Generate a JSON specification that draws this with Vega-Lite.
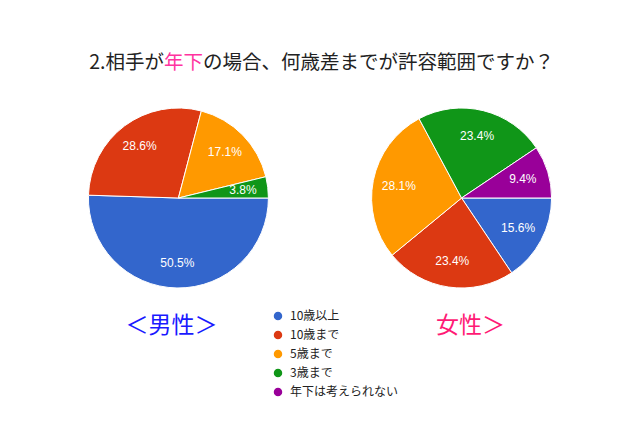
{
  "$schema": "https://vega.github.io/schema/vega-lite/v6.json",
  "width": 640,
  "height": 396,
  "autosize": {"type": "none"},
  "padding": {"top": 0, "left": 0, "right": 0, "bottom": 31},
  "background": "white",
  "config": {"view": {"stroke": null}},
  "datasets": {
    "pie": [
      {"sex": "男性", "category": "10歳以上", "rank": 1, "pct": 0.505},
      {"sex": "男性", "category": "10歳まで", "rank": 2, "pct": 0.286},
      {"sex": "男性", "category": "5歳まで", "rank": 3, "pct": 0.171},
      {"sex": "男性", "category": "3歳まで", "rank": 4, "pct": 0.038},
      {"sex": "女性", "category": "10歳以上", "rank": 1, "pct": 0.156},
      {"sex": "女性", "category": "10歳まで", "rank": 2, "pct": 0.234},
      {"sex": "女性", "category": "5歳まで", "rank": 3, "pct": 0.281},
      {"sex": "女性", "category": "3歳まで", "rank": 4, "pct": 0.234},
      {"sex": "女性", "category": "年下は考えられない", "rank": 5, "pct": 0.094}
    ],
    "labels": [
      {"sex": "男性", "label": "＜男性＞"},
      {"sex": "女性", "label": "女性＞"}
    ],
    "title": [
      {"a": "2.相手が", "hl": "年下", "b": "の場合、何歳差までが許容範囲ですか？"}
    ]
  },
  "layer": [
    {
      "data": {"name": "pie"},
      "transform": [{"filter": "datum.sex === '男性'"}],
      "layer": [
        {
          "mark": {"type": "arc", "outerRadius": 90, "stroke": "white", "strokeWidth": 1},
          "encoding": {
            "x": {"field": "sex", "type": "nominal", "scale": {"type": "point", "domain": ["男性", "女性"], "padding": 0.63}, "axis": null},
            "theta": {"field": "pct", "type": "quantitative", "stack": "normalize", "scale": {"range": [1.5708, 7.854]}},
            "order": {"field": "rank", "type": "quantitative"},
            "color": {
              "field": "category", "type": "nominal",
              "scale": {"domain": ["10歳以上", "10歳まで", "5歳まで", "3歳まで", "年下は考えられない"], "range": ["#3366cc", "#dc3912", "#ff9900", "#109618", "#990099"]},
              "legend": {"title": null, "orient": "none", "legendX": 272, "legendY": 310, "symbolType": "circle", "symbolSize": 100, "labelFont": "Noto Sans CJK JP", "labelFontSize": 12, "labelColor": "#222222", "rowPadding": 3, "labelOffset": 6}
            }
          }
        },
        {
          "mark": {"type": "text", "radius": 65, "fill": "white", "font": "Liberation Sans", "fontSize": 12},
          "encoding": {
            "x": {"field": "sex", "type": "nominal", "scale": {"type": "point", "domain": ["男性", "女性"], "padding": 0.63}, "axis": null},
            "theta": {"field": "pct", "type": "quantitative", "stack": "normalize"},
            "order": {"field": "rank", "type": "quantitative"},
            "text": {"field": "pct", "type": "quantitative", "format": ".1%"}
          }
        }
      ]
    },
    {
      "data": {"name": "pie"},
      "transform": [{"filter": "datum.sex === '女性'"}],
      "layer": [
        {
          "mark": {"type": "arc", "outerRadius": 90, "stroke": "white", "strokeWidth": 1},
          "encoding": {
            "x": {"field": "sex", "type": "nominal", "scale": {"type": "point", "domain": ["男性", "女性"], "padding": 0.63}, "axis": null},
            "theta": {"field": "pct", "type": "quantitative", "stack": "normalize", "scale": {"range": [1.5708, 7.854]}},
            "order": {"field": "rank", "type": "quantitative"},
            "color": {"field": "category", "type": "nominal"}
          }
        },
        {
          "mark": {"type": "text", "radius": 64, "fill": "white", "font": "Liberation Sans", "fontSize": 12},
          "encoding": {
            "x": {"field": "sex", "type": "nominal", "scale": {"type": "point", "domain": ["男性", "女性"], "padding": 0.63}, "axis": null},
            "theta": {"field": "pct", "type": "quantitative", "stack": "normalize"},
            "order": {"field": "rank", "type": "quantitative"},
            "text": {"field": "pct", "type": "quantitative", "format": ".1%"}
          }
        }
      ]
    },
    {
      "data": {"name": "labels"},
      "transform": [{"filter": "datum.sex === '男性'"}],
      "mark": {"type": "text", "font": "Noto Sans CJK JP", "fontSize": 23, "fill": "#1a1aff", "dy": 128, "dx": -7, "baseline": "middle"},
      "encoding": {
        "x": {"field": "sex", "type": "nominal", "scale": {"type": "point", "domain": ["男性", "女性"], "padding": 0.63}, "axis": null},
        "text": {"field": "label", "type": "nominal"}
      }
    },
    {
      "data": {"name": "labels"},
      "transform": [{"filter": "datum.sex === '女性'"}],
      "mark": {"type": "text", "font": "Noto Sans CJK JP", "fontSize": 23, "fill": "#ff1a75", "dy": 128, "dx": 9, "baseline": "middle"},
      "encoding": {
        "x": {"field": "sex", "type": "nominal", "scale": {"type": "point", "domain": ["男性", "女性"], "padding": 0.63}, "axis": null},
        "text": {"field": "label", "type": "nominal"}
      }
    },
    {
      "data": {"name": "title"},
      "mark": {"type": "text", "font": "Noto Sans CJK JP", "fontSize": 19.5, "fill": "#222222", "dy": -135, "dx": -14.4, "baseline": "middle", "align": "right"},
      "encoding": {
        "x": {"datum": "男性", "type": "nominal", "scale": {"type": "point", "domain": ["男性", "女性"], "padding": 0.63}, "axis": null},
        "text": {"field": "a", "type": "nominal"}
      }
    },
    {
      "data": {"name": "title"},
      "mark": {"type": "text", "font": "Noto Sans CJK JP", "fontSize": 19.5, "fill": "#ff33a0", "dy": -135, "dx": 5.1, "baseline": "middle", "align": "center"},
      "encoding": {
        "x": {"datum": "男性", "type": "nominal", "scale": {"type": "point", "domain": ["男性", "女性"], "padding": 0.63}, "axis": null},
        "text": {"field": "hl", "type": "nominal"}
      }
    },
    {
      "data": {"name": "title"},
      "mark": {"type": "text", "font": "Noto Sans CJK JP", "fontSize": 19.5, "fill": "#222222", "dy": -135, "dx": 24.6, "baseline": "middle", "align": "left"},
      "encoding": {
        "x": {"datum": "男性", "type": "nominal", "scale": {"type": "point", "domain": ["男性", "女性"], "padding": 0.63}, "axis": null},
        "text": {"field": "b", "type": "nominal"}
      }
    }
  ]
}
